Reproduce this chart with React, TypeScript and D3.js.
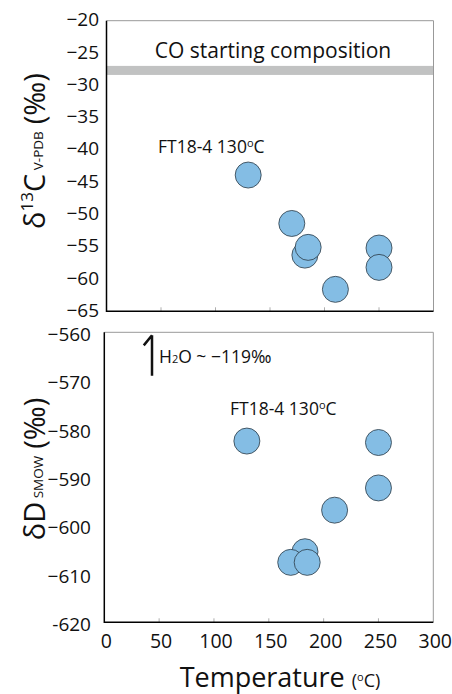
import React from "react";
import * as d3 from "d3";

// top panel: d13C vs temperature
const tempsC = [130, 170, 182, 185, 210, 250, 250];
const d13C = [-43.9, -51.4, -56.3, -55.1, -61.6, -55.2, -58.2];
// bottom panel: dD vs temperature
const tempsD = [130, 250, 250, 210, 183, 170, 185];
const dD = [-582.5, -582.8, -592.2, -596.8, -605.4, -607.6, -607.6];

const ticksC = [-20, -25, -30, -35, -40, -45, -50, -55, -60, -65];
const ticksD = [-560, -570, -580, -590, -600, -610, -620];
const labelsD = ["−560", "−570", "−580", "−590", "−600", "−610", "-620"];
const ticksT = [0, 50, 100, 150, 200, 250, 300];
const coBand = [-27, -28.4];

const FONT = "'Open Sans', sans-serif";
const FILL = "#84bde4";

export default function App() {
  const W = 452, H = 694;

  const xTop = d3.scaleLinear().domain([0, 300]).range([106.5, 433.5]);
  const yTop = d3.scaleLinear().domain([-20, -65]).range([20.7, 311.3]);
  const xBot = d3.scaleLinear().domain([0, 300]).range([104.3, 433.3]);
  const yBot = d3.scaleLinear().domain([-560, -620]).range([332.3, 622.3]);

  const frame = (x: d3.ScaleLinear<number, number>, y: d3.ScaleLinear<number, number>) => {
    const [x0, x1] = x.range();
    const [y0, y1] = y.range();
    return (
      <g>
        <line x1={x0} x2={x1} y1={y0} y2={y0} stroke="#999" strokeWidth={1} />
        <line x1={x1} x2={x1} y1={y0} y2={y1} stroke="#999" strokeWidth={1} />
        {ticksT.slice(1, -1).map(t => (
          <line key={t} x1={x(t)} x2={x(t)} y1={y1} y2={y1 - 4} stroke="#999" strokeWidth={0.8} />
        ))}
        <line x1={x0} x2={x0} y1={y0} y2={y1 + 0.7} stroke="#000" strokeWidth={1.5} />
        <line x1={x0} x2={x1} y1={y1} y2={y1} stroke="#000" strokeWidth={1.5} />
      </g>
    );
  };

  return (
    <svg width={W} height={H} style={{ position: "absolute", left: 0, top: 0, background: "#fff" }} fontFamily={FONT}>
      {/* top panel */}
      <rect x={xTop(0)} y={yTop(coBand[0])} width={xTop(300) - xTop(0)} height={yTop(coBand[1]) - yTop(coBand[0])} fill="#c1c2c2" />
      {frame(xTop, yTop)}
      <text x={273} y={58} fontSize={21} textAnchor="middle" fill="#111">CO starting composition</text>
      <text x={158} y={153} fontSize={17.5} fill="#111">
        FT18-4 130<tspan fontSize={11} dy={-6}>o</tspan><tspan dy={6}>C</tspan>
      </text>
      {ticksC.map(t => (
        <text key={t} x={99} y={yTop(t) + 0.5} fontSize={19} textAnchor="end" dominantBaseline="middle" fill="#111">
          {"−" + Math.abs(t)}
        </text>
      ))}
      {tempsC.map((t, i) => (
        <circle key={i} cx={xTop(t)} cy={yTop(d13C[i])} r={13} fill={FILL} stroke="#2b3a45" strokeWidth={0.8} />
      ))}
      <text transform="translate(45,151) rotate(-90)" textAnchor="middle" fontSize={29} fill="#111" style={{ whiteSpace: "pre" }}>
        δ<tspan fontSize={17} dy={-12}>13</tspan><tspan dy={12}>C</tspan>
        <tspan fontSize={13.5} dy={-2}>{" V-PDB  "}</tspan><tspan dy={2}>(‰)</tspan>
      </text>

      {/* bottom panel */}
      {frame(xBot, yBot)}
      <path d={`M${xBot(43.5)},${yBot(-560.6)} L${xBot(36)},${yBot(-562.7)} M${xBot(43.5)},${yBot(-560.6)} L${xBot(43.5)},${yBot(-569)}`} stroke="#111" strokeWidth={2.5} fill="none" />
      <text x={159} y={363} fontSize={17.5} fill="#111">
        H<tspan fontSize={11}>2</tspan>O ~ −119‰
      </text>
      <text x={230} y={415} fontSize={17.5} fill="#111">
        FT18-4 130<tspan fontSize={11} dy={-6}>o</tspan><tspan dy={6}>C</tspan>
      </text>
      {ticksD.map((t, i) => (
        <text key={t} x={91} y={yBot(t) + 3.5} fontSize={19} textAnchor="end" dominantBaseline="middle" fill="#111">
          {labelsD[i]}
        </text>
      ))}
      {ticksT.map(t => (
        <text key={t} x={xBot(t) + 2} y={643} fontSize={19.5} textAnchor="middle" dominantBaseline="middle" fill="#111">
          {t}
        </text>
      ))}
      {tempsD.map((t, i) => (
        <circle key={i} cx={xBot(t)} cy={yBot(dD[i])} r={13} fill={FILL} stroke="#2b3a45" strokeWidth={0.8} />
      ))}
      <text transform="translate(45,469) rotate(-90)" textAnchor="middle" fontSize={29} fill="#111" style={{ whiteSpace: "pre" }}>
        δD<tspan fontSize={13.5} dy={-2}>{" SMOW  "}</tspan><tspan dy={2}>(‰)</tspan>
      </text>
      <text x={280} y={687} textAnchor="middle" fontSize={27} fill="#111">
        Temperature <tspan fontSize={18}>(</tspan><tspan fontSize={11} dy={-6}>o</tspan><tspan fontSize={18} dy={6}>C)</tspan>
      </text>
    </svg>
  );
}
